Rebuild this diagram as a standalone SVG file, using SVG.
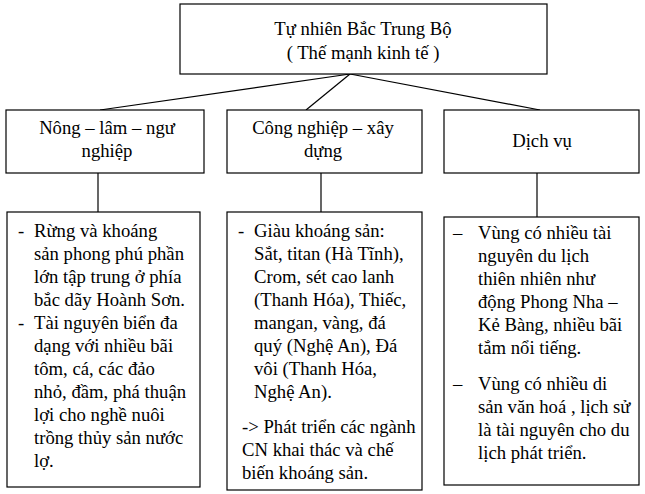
<svg xmlns="http://www.w3.org/2000/svg" width="645" height="494" viewBox="0 0 645 494">
<style>
.box{fill:#fff;stroke:#000;stroke-width:1.2}
.t{font-family:"Liberation Serif","Times New Roman",serif;font-size:18.7px;fill:#000}
.c{text-anchor:middle}
.ln{stroke:#000;stroke-width:1.2;fill:none}
</style>
<rect width="645" height="494" fill="#fff"/>
<g id="connectors">
<line class="ln" x1="350" y1="74" x2="100" y2="110"/>
<line class="ln" x1="350" y1="74" x2="306" y2="110"/>
<line class="ln" x1="350" y1="74" x2="540" y2="110"/>
<line class="ln" x1="98" y1="173" x2="98" y2="212"/>
<line class="ln" x1="321" y1="173" x2="321" y2="212"/>
<line class="ln" x1="537" y1="173" x2="537" y2="217"/>
</g>
<g id="root">
<rect class="box" x="180" y="4" width="367" height="70"/>
<text class="t c" x="363" y="35">Tự nhiên Bắc Trung Bộ</text>
<text class="t c" x="363" y="59">( Thế mạnh kinh tế )</text>
</g>
<g id="nong">
<rect class="box" x="6" y="110" width="198" height="63"/>
<text class="t c" x="107" y="134">Nông – lâm – ngư</text>
<text class="t c" x="107" y="157">nghiệp</text>
</g>
<g id="cong">
<rect class="box" x="227" y="110" width="195" height="63"/>
<text class="t c" x="323" y="134">Công nghiệp – xây</text>
<text class="t c" x="323" y="157">dựng</text>
</g>
<g id="dichvu">
<rect class="box" x="444" y="110" width="195" height="63"/>
<text class="t c" x="542" y="147">Dịch vụ</text>
</g>
<g id="nong-detail">
<rect class="box" x="7" y="212" width="193" height="275"/>
<text class="t" x="18" y="237">-</text>
<text class="t" x="18" y="329">-</text>
<text class="t" x="34" y="237">Rừng và khoáng</text>
<text class="t" x="34" y="260">sản phong phú phần</text>
<text class="t" x="34" y="283">lớn tập trung ở phía</text>
<text class="t" x="34" y="306">bắc dãy Hoành Sơn.</text>
<text class="t" x="34" y="329">Tài nguyên biển đa</text>
<text class="t" x="34" y="352">dạng với nhiều bãi</text>
<text class="t" x="34" y="375">tôm, cá, các đảo</text>
<text class="t" x="34" y="398">nhỏ, đầm, phá thuận</text>
<text class="t" x="34" y="421">lợi cho nghề nuôi</text>
<text class="t" x="34" y="444">trồng thủy sản nước</text>
<text class="t" x="34" y="467">lợ.</text>
</g>
<g id="cong-detail">
<rect class="box" x="227" y="212" width="195" height="278"/>
<text class="t" x="238" y="237">-</text>
<text class="t" x="254" y="237">Giàu khoáng sản:</text>
<text class="t" x="254" y="260">Sắt, titan (Hà Tĩnh),</text>
<text class="t" x="254" y="283">Crom, sét cao lanh</text>
<text class="t" x="254" y="306">(Thanh Hóa), Thiếc,</text>
<text class="t" x="254" y="329">mangan, vàng, đá</text>
<text class="t" x="254" y="352">quý (Nghệ An), Đá</text>
<text class="t" x="254" y="375">vôi (Thanh Hóa,</text>
<text class="t" x="254" y="398">Nghệ An).</text>
<text class="t" x="242" y="433">-&gt; Phát triển các ngành</text>
<text class="t" x="242" y="456">CN khai thác và chế</text>
<text class="t" x="242" y="479">biến khoáng sản.</text>
</g>
<g id="dichvu-detail">
<rect class="box" x="444" y="217" width="195" height="268"/>
<text class="t" x="453" y="239">–</text>
<text class="t" x="453" y="390">–</text>
<text class="t" x="478" y="239">Vùng có nhiều tài</text>
<text class="t" x="478" y="262">nguyên du lịch</text>
<text class="t" x="478" y="285">thiên nhiên như</text>
<text class="t" x="478" y="308">động Phong Nha –</text>
<text class="t" x="478" y="331">Kẻ Bàng, nhiều bãi</text>
<text class="t" x="478" y="354">tắm nổi tiếng.</text>
<text class="t" x="478" y="390">Vùng có nhiều di</text>
<text class="t" x="478" y="413">sản văn hoá , lịch sử</text>
<text class="t" x="478" y="436">là tài nguyên cho du</text>
<text class="t" x="478" y="459">lịch phát triển.</text>
</g>
</svg>
